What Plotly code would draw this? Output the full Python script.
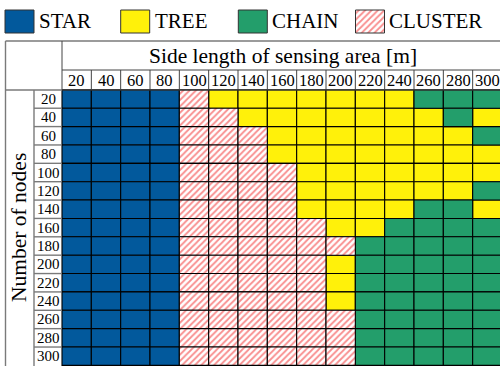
import plotly.graph_objects as go

# Side length of the sensing area [m] (columns) and number of nodes (rows)
side_lengths = [20, 40, 60, 80, 100, 120, 140, 160, 180, 200, 220, 240, 260, 280, 300]
node_counts = [20, 40, 60, 80, 100, 120, 140, 160, 180, 200, 220, 240, 260, 280, 300]

topologies = ["STAR", "TREE", "CHAIN", "CLUSTER"]
topology_codes = {"S": "STAR", "T": "TREE", "H": "CHAIN", "C": "CLUSTER"}

# Best topology per node count (one string per row, one letter per side length)
best_topology = [
    "SSSSCTTTTTTTHHH",  # 20
    "SSSSCCTTTTTTTHT",  # 40
    "SSSSCCCTTTTTTTH",  # 60
    "SSSSCCCTTTTTTTT",  # 80
    "SSSSCCCCTTTTTTT",  # 100
    "SSSSCCCCTTTTTTH",  # 120
    "SSSSCCCCTTTTHHT",  # 140
    "SSSSCCCCCTTHHHH",  # 160
    "SSSSCCCCCCHHHHH",  # 180
    "SSSSCCCCCTHHHHH",  # 200
    "SSSSCCCCCTHHHHH",  # 220
    "SSSSCCCCCTHHHHH",  # 240
    "SSSSCCCCCCHHHHH",  # 260
    "SSSSCCCCCCHHHHH",  # 280
    "SSSSCCCCCCHHHHH",  # 300
]

# ---- styling ----
W, H = 500, 366
FONT = "Liberation Serif, Times New Roman, DejaVu Serif, serif"
colors = {"STAR": "#02599c", "TREE": "#fff10a", "CHAIN": "#239e6b", "CLUSTER": "#ffffff"}
hatch = dict(shape="/", fgcolor="#f21c1c", bgcolor="#ffffff", size=4.5, solidity=0.4)

# Pixel geometry of the table
GRID_LEFT, GRID_TOP = 62.0, 90.0
CELL_W, CELL_H = 29.333, 18.4
STEP_X = side_lengths[1] - side_lengths[0]
STEP_Y = node_counts[1] - node_counts[0]
px_per_x = CELL_W / STEP_X
px_per_y = CELL_H / STEP_Y
x0 = side_lengths[0] - STEP_X / 2
y0 = node_counts[0] - STEP_Y / 2
x_range = [x0 - GRID_LEFT / px_per_x, x0 + (W - GRID_LEFT) / px_per_x]
y_range = [y0 + (H + 0.6 - GRID_TOP) / px_per_y, y0 - GRID_TOP / px_per_y]

fig = go.Figure()

# Grid cells: one bar per (side length, node count)
for name in topologies:
    xs, bases = [], []
    for i, n in enumerate(node_counts):
        for j, s in enumerate(side_lengths):
            if topology_codes[best_topology[i][j]] == name:
                xs.append(s)
                bases.append(n - STEP_Y / 2)
    marker = dict(color=colors[name], line=dict(color="#000000", width=1.1))
    if name == "CLUSTER":
        marker["pattern"] = hatch
    fig.add_trace(go.Bar(
        x=xs, y=[STEP_Y] * len(xs), base=bases, width=STEP_X,
        marker=marker, name=name, showlegend=False, hoverinfo="skip",
        xaxis="x", yaxis="y",
    ))

# Legend swatches drawn on a pixel-space overlay axis
legend_x = [19.5, 135.2, 252.8, 370.0]
legend_text_x = [37, 153, 270, 387]
for name, cx, tx in zip(topologies, legend_x, legend_text_x):
    marker = dict(color=colors[name], line=dict(color="#333333", width=1))
    if name == "CLUSTER":
        marker["pattern"] = hatch
    fig.add_trace(go.Bar(
        x=[cx], y=[23], base=[10], width=29, marker=marker,
        showlegend=False, hoverinfo="skip", xaxis="x2", yaxis="y2",
    ))

annotations = []
for name, tx in zip(topologies, legend_text_x):
    annotations.append(dict(
        x=tx, y=21, xref="x2", yref="y2", text=name, showarrow=False,
        xanchor="left", yanchor="middle", font=dict(family=FONT, size=21, color="#000"),
    ))

# Column header
annotations.append(dict(
    x=283, y=56, xref="x2", yref="y2", text="Side length of sensing area [m]",
    showarrow=False, xanchor="center", yanchor="middle",
    font=dict(family=FONT, size=21.5, color="#000"),
))
for s in side_lengths:
    annotations.append(dict(
        x=s, y=80.5, xref="x", yref="y2", text=str(s), showarrow=False,
        xanchor="center", yanchor="middle", font=dict(family=FONT, size=16.5, color="#000"),
    ))

# Row header
annotations.append(dict(
    x=19, y=228, xref="x2", yref="y2", text="Number of nodes", textangle=-90,
    showarrow=False, xanchor="center", yanchor="middle",
    font=dict(family=FONT, size=21.5, color="#000"),
))
for n in node_counts:
    annotations.append(dict(
        x=48.5, y=n, xref="x2", yref="y", text=str(n), showarrow=False,
        xanchor="center", yanchor="middle", font=dict(family=FONT, size=15, color="#000"),
    ))

# Table frame lines (pixel space) and header separators
outer = dict(color="#7a7a7a", width=1.4)
inner = dict(color="#444444", width=1)
shapes = [
    dict(type="line", xref="x2", yref="y2", x0=5.5, x1=W, y0=41, y1=41, line=outer),
    dict(type="line", xref="x2", yref="y2", x0=5.5, x1=5.5, y0=41, y1=H, line=outer),
    dict(type="line", xref="x2", yref="y2", x0=GRID_LEFT, x1=GRID_LEFT, y0=41, y1=GRID_TOP, line=inner),
    dict(type="line", xref="x2", yref="y2", x0=GRID_LEFT, x1=W, y0=70, y1=70, line=inner),
    dict(type="line", xref="x2", yref="y2", x0=5.5, x1=GRID_LEFT, y0=GRID_TOP, y1=GRID_TOP, line=outer),
    dict(type="line", xref="x2", yref="y2", x0=GRID_LEFT, x1=W, y0=GRID_TOP, y1=GRID_TOP, line=inner),
    dict(type="line", xref="x2", yref="y2", x0=34, x1=34, y0=GRID_TOP, y1=H, line=outer),
]
for s in side_lengths[1:]:
    shapes.append(dict(type="line", xref="x", yref="y2", x0=s - STEP_X / 2, x1=s - STEP_X / 2,
                       y0=70, y1=GRID_TOP, line=inner))
for n in node_counts[1:]:
    shapes.append(dict(type="line", xref="x2", yref="y", x0=34, x1=GRID_LEFT,
                       y0=n - STEP_Y / 2, y1=n - STEP_Y / 2, line=outer))

fig.update_layout(
    width=W, height=H,
    margin=dict(l=0, r=0, t=0, b=0),
    paper_bgcolor="white", plot_bgcolor="white",
    barmode="overlay",
    showlegend=False,
    xaxis=dict(range=x_range, visible=False, domain=[0, 1], fixedrange=True),
    yaxis=dict(range=y_range, visible=False, domain=[0, 1], fixedrange=True),
    xaxis2=dict(range=[0, W], visible=False, overlaying="x", anchor="y2", fixedrange=True),
    yaxis2=dict(range=[H, 0], visible=False, overlaying="y", anchor="x2", fixedrange=True),
    annotations=annotations,
    shapes=shapes,
)

fig.write_html("out.html", config={"displayModeBar": False})
